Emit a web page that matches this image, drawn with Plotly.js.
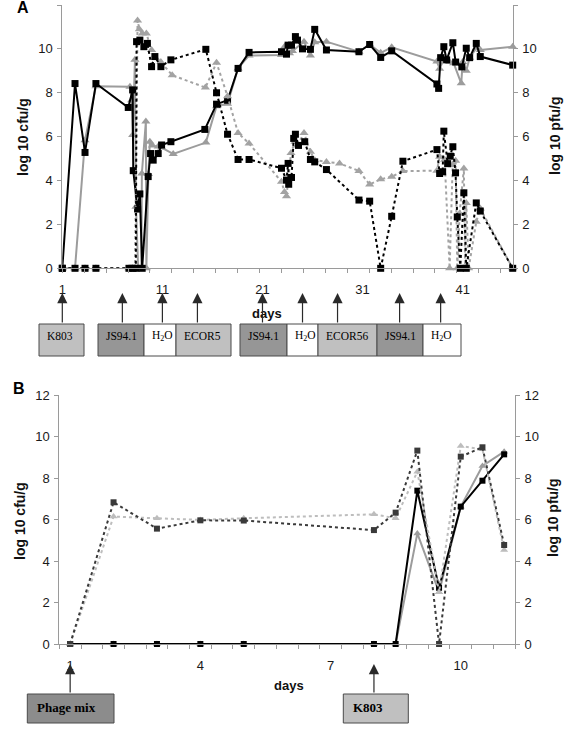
<!DOCTYPE html>
<html><head><meta charset="utf-8">
<script src="https://cdn.plot.ly/plotly-3.0.1.min.js"></script>
<style>html,body{margin:0;padding:0;background:#fff}#chart{width:566px;height:729px}</style>
</head><body><div id="chart"></div>
<script>
// ---------- Panel A data ----------
const cfuBlackDaysA = [1, 2.27, 3.27, 4.36, 7.59, 8.03, 8.09, 8.52, 8.75, 8.98, 9.58, 9.82, 10.08, 10.58, 10.92, 11.85, 15.24, 16.41, 17.51, 18.56, 19.66, 22.9, 23.4, 23.56, 23.9, 24.29, 24.5, 25.0, 25.79, 26.22, 27.39, 30.64, 31.71, 32.81, 33.91, 38.43, 38.6, 38.8, 39.12, 39.4, 40.02, 40.3, 40.92, 41.36, 41.7, 42.36, 42.76, 46];
const cfuBlackA = [0, 8.42, 5.28, 8.42, 7.33, 8.13, 4.45, 2.70, 3.39, 0, 4.18, 5.23, 4.93, 5.23, 5.62, 5.77, 6.33, 7.48, 7.66, 9.11, 9.84, 9.87, 9.76, 10.17, 10.17, 10.56, 10.4, 10.0, 9.98, 10.89, 9.95, 9.87, 10.2, 9.61, 9.91, 8.4, 8.2, 9.6, 10.1, 9.5, 10.28, 9.4, 9.18, 10.03, 9.6, 10.25, 9.65, 9.26];

const cfuGrayDaysA = [1, 2.27, 3.27, 4.36, 7.76, 7.93, 8.03, 8.26, 8.36, 8.58, 8.9, 8.95, 9.35, 9.4, 9.6, 9.75, 10.0, 10.58, 10.92, 12.08, 15.34, 16.41, 17.51, 18.56, 19.66, 22.9, 23.2, 23.7, 24.0, 25.15, 25.79, 26.22, 27.39, 30.64, 31.71, 32.81, 33.91, 38.43, 38.7, 39.2, 39.7, 40.1, 40.86, 41.0, 41.36, 41.7, 42.36, 42.76, 46];
const cfuGrayA = [0, 0, 5.84, 8.3, 8.27, 7.66, 6.08, 9.5, 2.8, 0, 0, 4.32, 6.69, 0, 4.3, 5.77, 5.6, 5.55, 5.5, 5.21, 5.73, 7.39, 7.5, 9.11, 9.7, 9.72, 10.1, 9.8, 9.9, 10.33, 9.7, 10.3, 10.33, 9.87, 10.2, 9.82, 10.07, 9.42, 9.1, 9.6, 9.4, 9.35, 8.43, 9.4, 9.0, 9.6, 10.03, 9.95, 10.1];

const pfuBlackDaysA = [1, 2.27, 3.27, 4.36, 7.66, 8.06, 8.35, 8.42, 8.75, 9.15, 9.5, 9.92, 10.25, 10.85, 11.85, 15.34, 16.41, 17.51, 18.56, 19.66, 22.9, 23.4, 23.56, 23.62, 23.9, 24.12, 24.29, 24.6, 25.22, 25.79, 26.22, 27.39, 30.64, 31.71, 32.81, 33.91, 35.03, 38.43, 38.7, 39.0, 39.12, 39.5, 39.76, 40.02, 40.29, 40.46, 40.76, 41.12, 41.36, 42.36, 42.76, 46];
const pfuBlackA = [0, 0, 0, 0, 0, 0, 0, 10.33, 10.4, 10.1, 10.25, 9.19, 9.65, 9.19, 9.5, 9.98, 8.0, 6.11, 4.96, 4.96, 4.56, 4.02, 4.78, 3.83, 4.14, 5.92, 6.11, 5.6, 5.77, 4.96, 4.85, 4.5, 3.11, 3.06, 0, 2.37, 4.88, 5.41, 4.32, 4.4, 6.25, 4.77, 5.11, 5.54, 4.35, 2.34, 0, 3.44, 0, 2.98, 2.61, 0];

const pfuGrayDaysA = [1, 2.27, 3.27, 4.36, 7.66, 8.0, 8.26, 8.52, 8.7, 9.0, 9.4, 9.92, 10.3, 10.85, 11.98, 15.3, 16.41, 17.51, 18.56, 19.66, 22.9, 23.2, 23.4, 23.85, 24.25, 24.5, 25.15, 25.79, 26.22, 27.39, 28.7, 30.64, 31.71, 32.81, 33.91, 35.03, 38.43, 38.7, 39.2, 39.7, 40.0, 40.3, 40.46, 40.7, 41.12, 41.25, 41.36, 41.6, 42.36, 42.76, 46];
const pfuGrayA = [0, 0, 0, 0, 0, 0, 0, 11.29, 10.9, 10.7, 10.7, 9.95, 9.6, 9.4, 8.8, 8.24, 9.37, 7.84, 6.17, 5.69, 3.95, 3.48, 3.28, 5.26, 5.77, 5.6, 6.17, 5.31, 4.93, 4.85, 4.78, 4.44, 3.82, 4.06, 4.17, 4.43, 4.45, 5.08, 4.95, 0, 4.7, 4.9, 0, 2.5, 4.55, 0, 2.98, 0, 2.12, 2.72, 0];

const xTicksA = [1, 11, 21, 31, 41];
const treatDaysA = [1, 7, 11, 14.5, 21, 25, 28.5, 34.7, 38.8];
const boxLabelsA = ['K803', 'JS94.1', 'H<sub>2</sub>O', 'ECOR5', 'JS94.1', 'H<sub>2</sub>O', 'ECOR56', 'JS94.1', 'H<sub>2</sub>O'];

// ---------- Panel B data ----------
const daysB = [1, 2, 3, 4, 5, 8, 8.5, 9, 9.5, 10, 10.5, 11];
const cfuBlackB = [0, 0, 0, 0, 0, 0, 0, 7.39, 2.71, 6.62, 7.87, 9.14];
const cfuGrayB = [0, 0, 0, 0, 0, 0, 0, 5.33, 2.5, 6.62, 8.58, 9.27];
const pfuDarkB = [0, 6.83, 5.56, 5.96, 5.95, 5.49, 6.33, 9.32, 0, 9.03, 9.48, 4.77];
const pfuLightB = [0, 6.14, 6.06, 5.98, 6.06, 6.25, 6.06, 8.3, 2.49, 9.54, 9.38, 4.53];
const xTicksB = [1, 4, 7, 10];
const treatDaysB = [1, 8];
const boxLabelsB = ['Phage mix', 'K803'];

const yTicks = [0, 2, 4, 6, 8, 10, 12];
const titleCfu = 'log 10 cfu/g';
const titlePfu = 'log 10 pfu/g';
const titleDays = 'days';

// ---------- layout helpers ----------
const W = 566, H = 729;
const px = v => v / W;
const py = v => 1 - v / H;
const AX = '#9a9a9a';
const tickFont = {family: 'Arial, Liberation Sans, sans-serif', size: 13, color: '#1a1a1a'};

function ln(x, y, xa, ya, color, dash, sym, size, width) {
  return {x: x, y: y, xaxis: xa, yaxis: ya, type: 'scatter', mode: 'lines+markers', cliponaxis: false,
    line: {color: color, width: width || 2, dash: dash},
    marker: {symbol: sym, size: size, color: color}, hoverinfo: 'skip'};
}

const traces = [
  ln(pfuGrayDaysA, pfuGrayA, 'x', 'y2', '#a3a3a3', 'dot', 'triangle-up', 8),
  ln(pfuBlackDaysA, pfuBlackA, 'x', 'y2', '#000000', 'dot', 'square', 7),
  ln(cfuGrayDaysA, cfuGrayA, 'x', 'y', '#9c9c9c', 'solid', 'triangle-up', 8),
  ln(cfuBlackDaysA, cfuBlackA, 'x', 'y', '#000000', 'solid', 'square', 7),
  ln(daysB, pfuLightB, 'x2', 'y4', '#bdbdbd', 'dot', 'triangle-up', 7),
  ln(daysB, pfuDarkB, 'x2', 'y4', '#3a3a3a', 'dot', 'square', 6),
  ln(daysB, cfuGrayB, 'x2', 'y3', '#9c9c9c', 'solid', 'triangle-up', 7),
  ln(daysB, cfuBlackB, 'x2', 'y3', '#000000', 'solid', 'square', 6)
];

function xAxis(dom, range, anchor, tv, t0) {
  return {domain: dom, range: range, anchor: anchor, showline: true, linecolor: AX, linewidth: 1,
    showgrid: false, zeroline: false, ticks: '', tickmode: 'array', tickvals: tv, ticktext: tv.map(String),
    tickfont: tickFont, ticklabelstandoff: 9, fixedrange: true,
    minor: {ticks: 'outside', tickmode: 'linear', tick0: t0.tick0, dtick: t0.dtick, ticklen: 4, tickcolor: AX, tickwidth: 1, showgrid: false}};
}
function yAxis(dom, anchor, side, overlay) {
  const a = {range: [0, 12], anchor: anchor, side: side, showline: true, linecolor: AX, linewidth: 1,
    showgrid: false, zeroline: false, ticks: 'outside', ticklen: 4, tickcolor: AX, tickmode: 'array',
    tickvals: yTicks, ticktext: yTicks.map(String), tickfont: tickFont, ticklabelstandoff: 2, fixedrange: true};
  if (overlay) a.overlaying = overlay; else a.domain = dom;
  return a;
}

const domAx = [px(62.3), px(512.7)], domAy = [py(268.3), py(5)];
const domBx = [px(59.3), px(515)], domBy = [py(644), py(395)];

const shapes = [], annotations = [];
const titleFont = {family: 'Arial, Liberation Sans, sans-serif', size: 14, color: '#111'};
function txt(x, y, t, opts) {
  annotations.push(Object.assign({xref: 'paper', yref: 'paper', x: px(x), y: py(y), text: t, showarrow: false,
    xanchor: 'center', yanchor: 'middle', font: titleFont}, opts || {}));
}
txt(23, 8, '<b>A</b>', {font: {family: 'Arial', size: 16, color: '#000'}});
txt(19, 388, '<b>B</b>', {font: {family: 'Arial', size: 16, color: '#000'}});
txt(23, 137, '<b>' + titleCfu + '</b>', {textangle: -90});
txt(555, 136, '<b>' + titlePfu + '</b>', {textangle: -90});
txt(20, 521, '<b>' + titleCfu + '</b>', {textangle: -90});
txt(553, 518, '<b>' + titlePfu + '</b>', {textangle: -90});
txt(267, 313, '<b>' + titleDays + '</b>', {font: {family: 'Arial', size: 13, color: '#111'}});
txt(289, 685, '<b>' + titleDays + '</b>', {font: {family: 'Arial', size: 13, color: '#111'}});

// treatment boxes (geometry in pixels)
const LIGHT = '#c0c0c0', DARK = '#969696', WHITE = '#ffffff';
const boxGeomA = [[39, 84, LIGHT], [98, 144, DARK], [144, 176, WHITE], [176, 231, LIGHT], [240, 287, DARK], [287, 318, WHITE], [318, 377, LIGHT], [377, 423, DARK], [423, 461, WHITE]];
boxGeomA.forEach((g, i) => {
  shapes.push({type: 'rect', xref: 'paper', yref: 'paper', x0: px(g[0]), x1: px(g[1]), y0: py(356), y1: py(324),
    fillcolor: g[2], line: {color: '#4a4a4a', width: 1}, layer: 'above'});
  txt(g[0] + 6, 336, boxLabelsA[i], {xanchor: 'left', font: {family: 'Liberation Serif, Times New Roman, serif', size: 11.5, color: '#000'}});
});
const boxGeomB = [[27.3, 114, '#8c8c8c'], [343.3, 408.3, LIGHT]];
boxGeomB.forEach((g, i) => {
  shapes.push({type: 'rect', xref: 'paper', yref: 'paper', x0: px(g[0]), x1: px(g[1]), y0: py(723), y1: py(694),
    fillcolor: g[2], line: {color: '#4a4a4a', width: 1}, layer: 'above'});
  txt(g[0] + 8, 707, '<b>' + boxLabelsB[i] + '</b>', {xanchor: 'left', font: {family: 'Liberation Serif, Times New Roman, serif', size: 13, color: '#000'}});
});
function arrow(xref, d, tipY, tailY) {
  annotations.push({xref: xref, yref: 'paper', x: d, y: py(tipY), ax: 0, ay: tailY - tipY, axref: 'pixel', ayref: 'pixel',
    text: '', showarrow: true, arrowhead: 2, arrowsize: 1.7, arrowwidth: 1.2, arrowcolor: '#2a2a2a', standoff: 0});
}
treatDaysA.forEach(d => arrow('x', d, 293, 324));
treatDaysB.forEach(d => arrow('x2', d, 664, 694));

const layout = {
  width: W, height: H, margin: {l: 0, r: 0, t: 0, b: 0}, showlegend: false,
  paper_bgcolor: '#fff', plot_bgcolor: 'rgba(0,0,0,0)',
  xaxis: xAxis(domAx, [1, 46], 'y', xTicksA, {tick0: 1, dtick: 2.19}),
  yaxis: yAxis(domAy, 'x', 'left'),
  yaxis2: yAxis(domAy, 'x', 'right', 'y'),
  xaxis2: xAxis(domBx, [0.75, 11.25], 'y3', xTicksB, {tick0: 0.75, dtick: 0.5}),
  yaxis3: yAxis(domBy, 'x2', 'left'),
  yaxis4: yAxis(domBy, 'x2', 'right', 'y3'),
  shapes: shapes, annotations: annotations
};
Plotly.newPlot('chart', traces, layout, {staticPlot: true, displayModeBar: false});
</script></body></html>
